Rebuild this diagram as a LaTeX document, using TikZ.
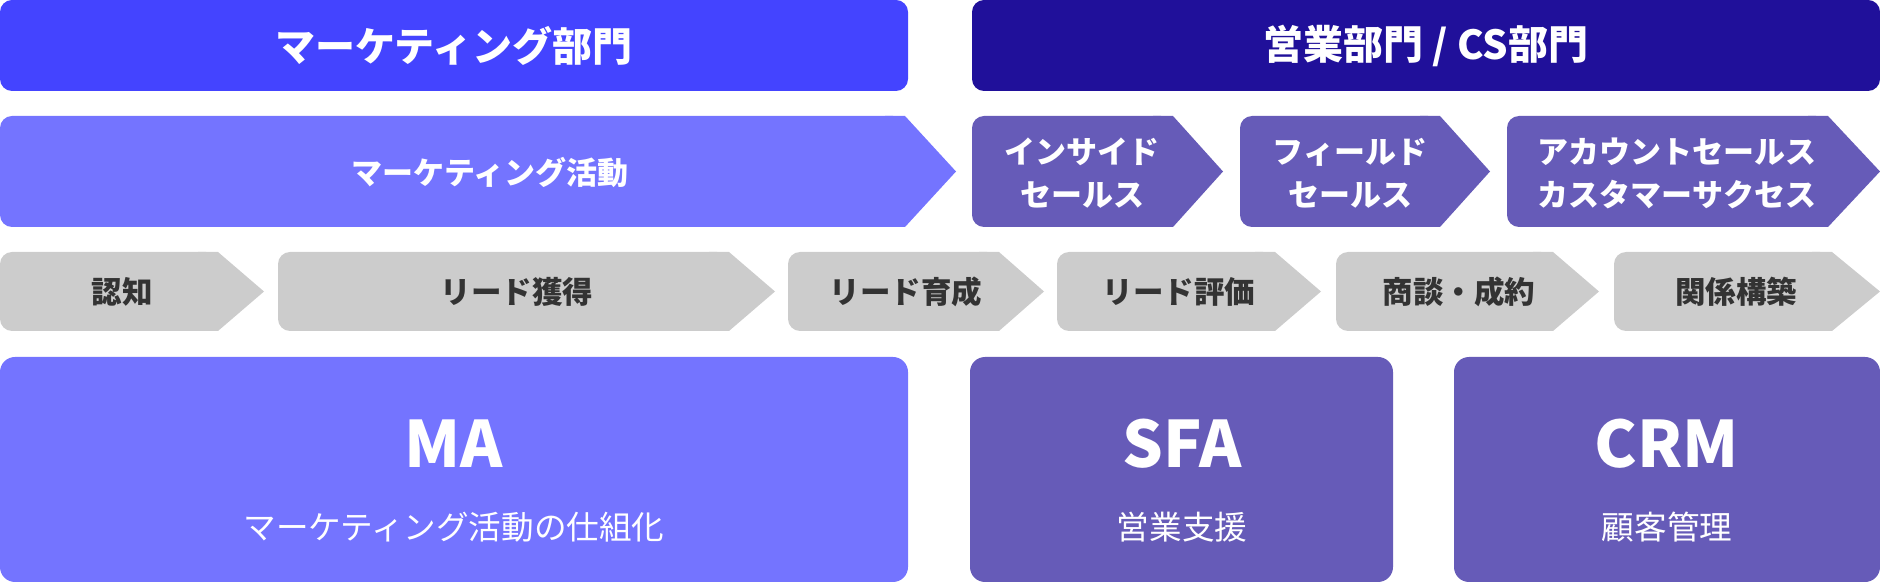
\documentclass[tikz,border=0pt]{standalone}
\usepackage{fontspec}
\setmainfont{Noto Sans CJK JP}
\usetikzlibrary{positioning}

\definecolor{mktdept}{HTML}{4444FF}
\definecolor{salesdept}{HTML}{20109A}
\definecolor{mktact}{HTML}{7474FF}
\definecolor{salesact}{HTML}{665BB8}
\definecolor{stagegray}{HTML}{CCCCCC}
\definecolor{stagetext}{HTML}{333333}

% chevron: fill, left x, body right x, tip x, top y, bottom y
\newcommand\chevron[6]{%
	\fill[#1, rounded corners=6pt] (#2,#5) rectangle (#3,#6);
	\fill[#1] (#3-20,#5) -- (#3,#5) -- (#4,{(#5+#6)/2}) -- (#3,#6) -- (#3-20,#6) -- cycle;
}

\begin{document}
\begin{tikzpicture}[
	x=0.5pt, y=-0.5pt,
	depttext/.style={
		text=white,
		font=\fontsize{20pt}{24pt}\selectfont\bfseries,
		align=center,
	},
	acttext/.style={
		text=white,
		font=\fontsize{15.5pt}{21.5pt}\selectfont\bfseries,
		align=center,
	},
	stagetxt/.style={
		text=stagetext,
		font=\fontsize{15.25pt}{18pt}\selectfont\bfseries,
		align=center,
	},
	tooltitle/.style={
		text=white,
		font=\fontsize{32pt}{36pt}\selectfont\bfseries,
	},
	toolsub/.style={
		text=white,
		font=\fontsize{16.3pt}{20pt}\selectfont,
	},
	toolbox/.style={rounded corners=7.5pt},
]
\useasboundingbox (0,0) rectangle (1880,582);

% --- Abteilungen (Zeile 1) ---
\fill[mktdept, rounded corners=6pt] (0,0) rectangle (908,91);
\fill[salesdept, rounded corners=6pt] (972,0) rectangle (1880,91);
\node[depttext] (mkt) at (454,46) {マーケティング部門};
\node[depttext] (sales) at (1426,46) {営業部門 / CS部門};

% --- Aktivitäten (Zeile 2) ---
\chevron{mktact}{0}{905}{956}{116}{227}
\chevron{salesact}{972}{1173}{1223}{116}{227}
\chevron{salesact}{1240}{1440}{1490}{116}{227}
\chevron{salesact}{1507}{1828}{1880}{116}{227}
\node[acttext] (mktact) at (490,173) {マーケティング活動};
\node[acttext] (inside) at (1082,173) {インサイド\\セールス};
\node[acttext] (field) at (1350,173) {フィールド\\セールス};
\node[acttext] (account) at (1677,173) {アカウントセールス\\カスタマーサクセス};

% --- Phasen (Zeile 3) ---
\chevron{stagegray}{0}{218}{264}{252}{331}
\chevron{stagegray}{278}{729}{775}{252}{331}
\chevron{stagegray}{788}{999}{1044}{252}{331}
\chevron{stagegray}{1057}{1275}{1321}{252}{331}
\chevron{stagegray}{1336}{1553}{1599}{252}{331}
\chevron{stagegray}{1614}{1832}{1880}{252}{331}
\node[stagetxt] (aware) at (122,292) {認知};
\node[stagetxt] (leadgen) at (517,292) {リード獲得};
\node[stagetxt] (nurture) at (906,292) {リード育成};
\node[stagetxt] (qualify) at (1179,292) {リード評価};
\node[stagetxt] (deal) at (1459,292) {商談・成約};
\node[stagetxt] (relation) at (1736,292) {関係構築};

% --- Werkzeuge (Zeile 4) ---
\fill[mktact, toolbox] (0,357) rectangle (908,582);
\fill[salesact, toolbox] (970,357) rectangle (1393,582);
\fill[salesact, toolbox] (1454,357) rectangle (1880,582);
\node[tooltitle] (ma) at (454,444) {MA};
\node[toolsub] (masub) at (454,527) {マーケティング活動の仕組化};
\node[tooltitle] (sfa) at (1182,444) {SFA};
\node[toolsub] (sfasub) at (1182,527) {営業支援};
\node[tooltitle] (crm) at (1667,444) {CRM};
\node[toolsub] (crmsub) at (1667,527) {顧客管理};

\end{tikzpicture}
\end{document}
